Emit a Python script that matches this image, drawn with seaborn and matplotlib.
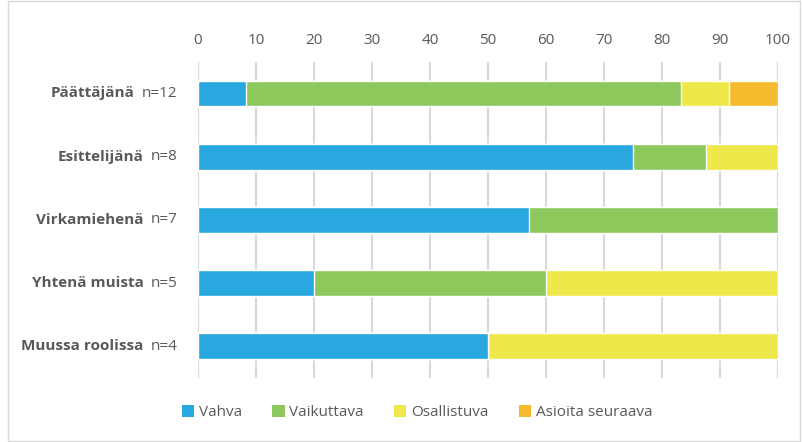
import numpy as np
import pandas as pd
import matplotlib
matplotlib.use("Agg")
import matplotlib.pyplot as plt
import seaborn as sns
from matplotlib.patches import Rectangle, Patch

# data (percent of respondents)
roles = ["Päättäjänä", "Esittelijänä", "Virkamiehenä", "Yhtenä muista", "Muussa roolissa"]
n_labels = ["n=12", "n=8", "n=7", "n=5", "n=4"]
series = ["Vahva", "Vaikuttava", "Osallistuva", "Asioita seuraava"]
vahva = [8.3, 75.0, 57.1, 20.0, 50.0]
vaikuttava = [75.0, 12.5, 42.9, 40.0, 0.0]
osallistuva = [8.3, 12.5, 0.0, 40.0, 50.0]
asioita = [8.4, 0.0, 0.0, 0.0, 0.0]
colors = ["#29A8E0", "#8DC85C", "#EEE84A", "#F5BA2E"]

sns.set_theme(style="white")
plt.rcParams["font.family"] = ["Open Sans", "DejaVu Sans"]

df = pd.DataFrame({"role": roles, "Vahva": vahva, "Vaikuttava": vaikuttava,
                   "Osallistuva": osallistuva, "Asioita seuraava": asioita})
cum = df[series].cumsum(axis=1)

fig = plt.figure(figsize=(8.02, 4.42), dpi=100)
ax = fig.add_axes([0.2469, 0.145, 0.9701 - 0.2469, 0.715])

# draw the stacks from the top down so the shorter ones sit on top
for s, c in reversed(list(zip(series, colors))):
    sns.barplot(x=cum[s], y=df["role"], color=c, orient="h", width=0.41,
                saturation=1, ax=ax, zorder=3)

ax.set_xlim(0, 100)
ax.set_ylim(4.5, -0.5)
ax.set_xticks(range(0, 101, 10))
ax.xaxis.tick_top()
ax.tick_params(axis="x", length=0, labelsize=11, labelcolor="#595959", pad=10)
ax.set_xlabel("")
ax.set_ylabel("")
ax.set_yticks(range(len(roles)))
ax.set_yticklabels([])
ax.tick_params(axis="y", length=0)
ax.grid(axis="x", color="#D9D9D9", linewidth=1.5, zorder=0)
for sp in ax.spines.values():
    sp.set_visible(False)

# category labels: bold name + normal n
for i, (r, nl) in enumerate(zip(roles, n_labels)):
    t = ax.annotate(nl, xy=(0, i), xycoords=("axes fraction", "data"),
                    xytext=(-15, 0), textcoords="offset points",
                    ha="right", va="center", fontsize=11, color="#595959")
    ax.annotate(r, xy=(0, 0.5), xycoords=t, xytext=(-5, 0),
                textcoords="offset points", ha="right", va="center",
                fontsize=11, fontweight="bold", color="#595959")

leg_handles = [Patch(facecolor=c, edgecolor="none") for c in colors]
fig.legend(leg_handles, series, loc="center", bbox_to_anchor=(0.52, 0.066),
           ncol=4, frameon=False, fontsize=11, handlelength=0.8, handleheight=0.8,
           handletextpad=0.3, columnspacing=2.0, labelcolor="#595959")

fig.patches.append(Rectangle((0.01, 0.003), 0.988, 0.994, transform=fig.transFigure,
                             fill=False, edgecolor="#D9D9D9", linewidth=1))

fig.savefig("out.png", dpi=100)
